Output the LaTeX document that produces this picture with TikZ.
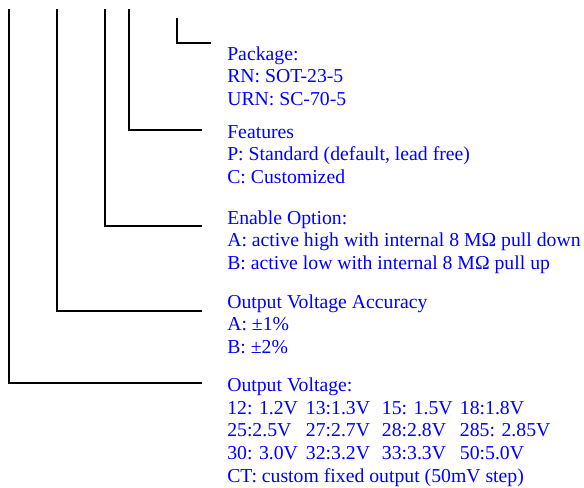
\documentclass[tikz,border=0pt]{standalone}
\usepackage{fontspec}
\setmainfont{Liberation Serif}
\tikzset{
  lead/.style={line width=1.5pt},
  info/.style={anchor=base west,inner sep=0pt,text=blue,align=left,
    font=\fontsize{14.8}{16.9}\selectfont},
}
\newcommand{\vcol}[2]{\makebox[#1][l]{#2}}
\begin{document}
\begin{tikzpicture}[x=0.75pt,y=-0.75pt]
        \useasboundingbox (0,0) rectangle (584,487);
        \coordinate (topv) at (9,9);
        \coordinate (topacc) at (57,9);
        \coordinate (topen) at (105,9);
        \coordinate (topfeat) at (129,9);
        \coordinate (toppkg) at (177,18);
        \coordinate (endv) at (202,383);
        \coordinate (endacc) at (202,311);
        \coordinate (enden) at (202,226);
        \coordinate (endfeat) at (202,130);
        \coordinate (endpkg) at (211,43);
        \draw[lead] (topv) |- (endv);
        \draw[lead] (topacc) |- (endacc);
        \draw[lead] (topen) |- (enden);
        \draw[lead] (topfeat) |- (endfeat);
        \draw[lead] (toppkg) |- (endpkg);
        \node[info] (pkg) at (227,105.5) {Package:\\RN: SOT-23-5\\URN: SC-70-5};
        \node[info] (feat) at (227,183.5) {Features\\P: Standard (default, lead free)\\C: Customized};
        \node[info] (en) at (227,269.5) {Enable Option:\\A: active high with internal 8 MΩ pull down\\B: active low with internal 8 MΩ pull up};
        \node[info] (acc) at (227,353.5) {Output Voltage Accuracy\\A: ±1\%\\B: ±2\%};
        \node[info] (outv) at (227,482) {Output Voltage:\\
          \vcol{59pt}{12: 1.2V}\vcol{57pt}{13:1.3V}\vcol{58.5pt}{15: 1.5V}18:1.8V\\
          \vcol{59pt}{25:2.5V}\vcol{57pt}{27:2.7V}\vcol{58.5pt}{28:2.8V}285: 2.85V\\
          \vcol{59pt}{30: 3.0V}\vcol{57pt}{32:3.2V}\vcol{58.5pt}{33:3.3V}50:5.0V\\
          CT: custom fixed output (50mV step)};
      \end{tikzpicture}
\end{document}
